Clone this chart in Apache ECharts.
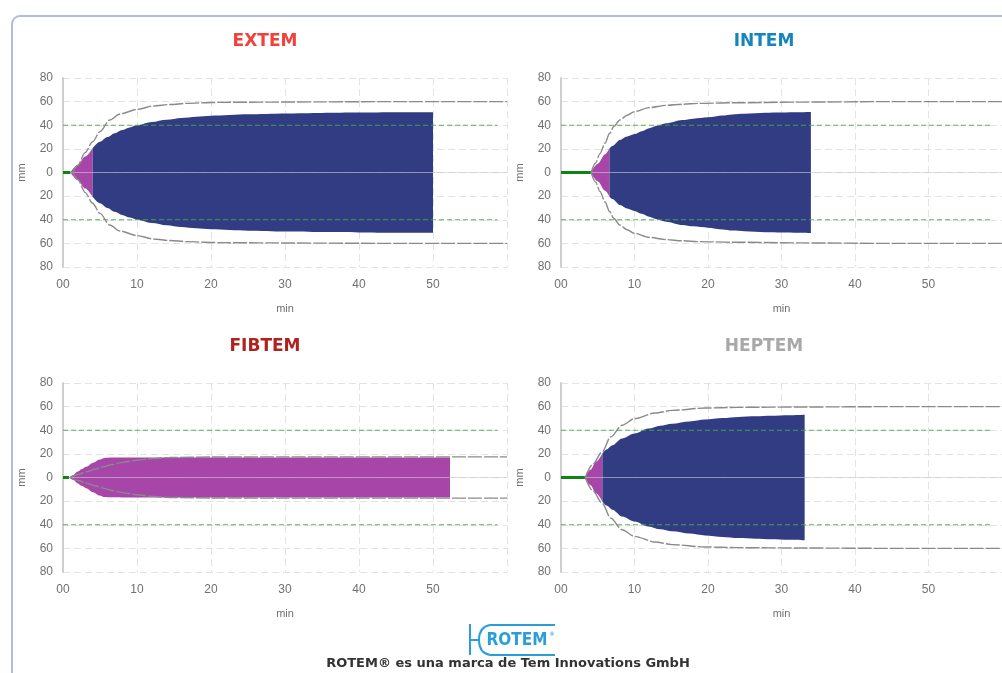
<!DOCTYPE html>
<html>
<head>
<meta charset="utf-8">
<title>ROTEM</title>
<script src="https://cdn.jsdelivr.net/npm/echarts@6/dist/echarts.min.js"></script>
<style>
  html, body { margin: 0; padding: 0; background: #fff; }
  #chart { width: 1002px; height: 673px; }
</style>
</head>
<body>
<div id="chart"></div>
<script>
// ---- Panels ----
const testNames = ['EXTEM', 'INTEM', 'FIBTEM', 'HEPTEM'];
const titleColors = ['#f2403a', '#1485bd', '#b0221e', '#a8a8a8'];

// ---- Axis ticks ----
const timeTicks = [0, 10, 20, 30, 40, 50, 60];
const ampTicks = [-80, -60, -40, -20, 0, 20, 40, 60, 80];
const limitLines = [40, -40];
const limitSpan = [0, 58.7];

// ---- Clotting time (min): flat trace before clot starts ----
const clotTime = [1.0, 4.05, 0.8, 3.25];
// ---- Time (min) at which amplitude reaches 20 mm ----
const time20 = [4.0, 6.6, null, 5.63];

// ---- EXTEM trace ----
const extemTime = [1.0, 2, 3, 4.0, 5, 6, 7, 8, 9, 10, 12, 14, 16, 18, 20, 25, 30, 35, 40, 45, 50];
const extemAmp  = [0, 6.5, 13.5, 20.5, 26, 30, 33.3, 36, 38.2, 40, 42.7, 44.6, 46.2, 47.3, 48.1, 49.3, 50, 50.4, 50.7, 51, 51];
const extemRefTime = [1.3, 2, 3, 4, 5, 6.3, 7.7, 10, 12.2, 14.5, 16.7, 19, 21.2, 25, 28, 35, 45, 60];
const extemRefAmp  = [0, 6, 17, 26, 34.6, 44.4, 49.5, 53.4, 56.3, 57.6, 58.5, 59, 59.4, 59.5, 59.6, 59.8, 60, 60];

// ---- INTEM trace ----
const intemTime = [4.05, 5, 6, 6.6, 7, 8, 9, 10, 11, 12, 13, 14.3, 16.5, 18, 20, 22, 23.3, 25, 27.8, 30, 32.3, 34];
const intemAmp  = [0, 7.5, 15.5, 20.5, 22.5, 27.6, 30.5, 32.6, 35, 37.4, 39.5, 41.6, 44.4, 45.6, 46.7, 48.3, 49.2, 49.8, 50.6, 50.8, 51, 51.2];
const intemRefTime = [4.1, 4.7, 5.3, 6, 6.6, 7.2, 8, 9, 10, 12, 14.3, 16.5, 18.8, 23.3, 32.3, 45, 60];
const intemRefAmp  = [0, 8, 16, 25, 33, 39, 44.4, 48.5, 51.5, 54.9, 56.8, 57.8, 58.5, 59, 59.6, 60, 60];

// ---- FIBTEM trace ----
const fibtemTime = [0.8, 1.35, 2, 2.5, 3.15, 4.05, 4.95, 5.6, 6, 8, 12.2, 20, 30, 40, 52.3];
const fibtemAmp  = [0, 2, 5, 7, 9, 12.4, 15.2, 16.6, 16.8, 16.9, 17, 17, 16.9, 16.9, 16.9];
const fibtemRefTime = [1, 2, 3.15, 4.3, 5.4, 6.5, 7.7, 8.8, 9.9, 12.2, 14.4, 20, 30, 60];
const fibtemRefAmp  = [0, 2.5, 4.8, 7, 9, 10.8, 12.4, 13.6, 14.6, 16, 16.9, 17.3, 17.5, 17.5];

// ---- HEPTEM trace ----
const heptemTime = [3.25, 4, 4.8, 5.63, 6.2, 7, 8.3, 10, 11.9, 13.5, 15.1, 17.5, 19.6, 22, 24.1, 26.5, 28.6, 31, 33.15];
const heptemAmp  = [0, 6.5, 13.5, 20.3, 23.8, 27.3, 33, 37.2, 41.4, 43.8, 45.6, 47.5, 49, 50.3, 51.2, 51.8, 52.3, 52.8, 53.2];
const heptemRefTime = [3.3, 4.3, 5.6, 6.75, 8.3, 10, 12.8, 15.1, 19.6, 24.1, 33.1, 45, 60];
const heptemRefAmp  = [0, 11, 21.7, 34.3, 44.2, 49.8, 54.6, 56.8, 58.8, 59.4, 59.7, 60, 60];

const traceTime = [extemTime, intemTime, fibtemTime, heptemTime];
const traceAmp = [extemAmp, intemAmp, fibtemAmp, heptemAmp];
const refTime = [extemRefTime, intemRefTime, fibtemRefTime, heptemRefTime];
const refAmp = [extemRefAmp, intemRefAmp, fibtemRefAmp, heptemRefAmp];

// ---- Styling ----
const FILL_BLUE = '#313c83';
const FILL_MAGENTA = '#a845a9';
const CT_GREEN = '#0f840f';
const REF_GRAY = '#8a8a8a';
const LABEL_GRAY = '#707070';
const GRID_GRAY = '#e3e3e3';

const gridBoxes = [
  { left: 63, top: 78, width: 444, height: 189 },
  { left: 561, top: 78, width: 444, height: 189 },
  { left: 63, top: 383, width: 444, height: 189 },
  { left: 561, top: 383, width: 444, height: 189 }
];
const titleCenters = [[260, 28], [759, 28], [260, 333], [759, 333]];

function pairs(ts, as, sign, from, to) {
  const out = [];
  for (let i = 0; i < ts.length; i++) {
    if (from != null && ts[i] < from - 1e-9) continue;
    if (to != null && ts[i] > to + 1e-9) continue;
    out.push([ts[i], sign * as[i]]);
  }
  return out;
}

function areaSeries(idx, data, color) {
  return {
    type: 'line', xAxisIndex: idx, yAxisIndex: idx, data: data,
    symbol: 'none', smooth: 0.3, smoothMonotone: 'x',
    lineStyle: { width: 0, color: color },
    areaStyle: { color: color, opacity: 1 },
    z: 2, silent: true
  };
}

function flatLine(idx, x0, x1, y, lineStyle, z) {
  return {
    type: 'line', xAxisIndex: idx, yAxisIndex: idx, data: [[x0, y], [x1, y]],
    symbol: 'none', lineStyle: lineStyle, z: z, silent: true
  };
}

const grids = [], xAxes = [], yAxes = [], series = [], titles = [];

testNames.forEach((name, i) => {
  grids.push(Object.assign({ containLabel: false }, gridBoxes[i]));
  titles.push({
    text: name, left: titleCenters[i][0], top: titleCenters[i][1], textAlign: 'center',
    textStyle: { color: titleColors[i], fontSize: 17, fontWeight: 'bold', fontFamily: 'DejaVu Sans' }
  });
  xAxes.push({
    type: 'value', gridIndex: i, min: timeTicks[0], max: timeTicks[timeTicks.length - 1], interval: 10,
    name: 'min', nameLocation: 'middle', nameGap: 36,
    nameTextStyle: { color: LABEL_GRAY, fontSize: 11, fontFamily: 'Liberation Sans' },
    axisLine: { show: false }, axisTick: { show: false },
    axisLabel: {
      color: LABEL_GRAY, fontSize: 12, margin: 12, fontFamily: 'Liberation Sans', showMaxLabel: false,
      formatter: v => (v === 0 ? '00' : String(v))
    },
    splitLine: { show: true, lineStyle: { color: GRID_GRAY, type: [7, 4], width: 1 } }
  });
  yAxes.push({
    type: 'value', gridIndex: i, min: ampTicks[0], max: ampTicks[ampTicks.length - 1], interval: 20,
    name: 'mm', nameLocation: 'middle', nameGap: 36, nameRotate: 90,
    nameTextStyle: { color: LABEL_GRAY, fontSize: 11, fontFamily: 'Liberation Sans' },
    axisLine: { show: true, onZero: false, lineStyle: { color: '#cfcfcf', width: 2 } },
    axisTick: { show: false },
    axisLabel: { color: LABEL_GRAY, fontSize: 12, margin: 10, fontFamily: 'Liberation Sans',
      formatter: v => String(Math.abs(v)) },
    splitLine: { show: true, lineStyle: { color: GRID_GRAY, type: [7, 4], width: 1 } }
  });

  const ts = traceTime[i], as = traceAmp[i], t20 = time20[i];
  // early (magenta) phase up to 20 mm, then the blue phase
  series.push(areaSeries(i, pairs(ts, as, 1, null, t20), FILL_MAGENTA));
  series.push(areaSeries(i, pairs(ts, as, -1, null, t20), FILL_MAGENTA));
  if (t20 != null) {
    series.push(areaSeries(i, pairs(ts, as, 1, t20, null), FILL_BLUE));
    series.push(areaSeries(i, pairs(ts, as, -1, t20, null), FILL_BLUE));
  }

  // zero line across the panel
  series.push(flatLine(i, timeTicks[0], timeTicks[timeTicks.length - 1], 0,
    { color: 'rgba(195,195,195,0.5)', type: 'solid', width: 1 }, 3));
  // ±40 mm limit lines
  limitLines.forEach(v => {
    series.push(flatLine(i, limitSpan[0], limitSpan[1], v,
      { color: 'rgba(70,172,70,0.9)', type: [5, 3], width: 1 }, 4));
  });

  // reference envelope
  [1, -1].forEach(sign => {
    series.push({
      type: 'line', xAxisIndex: i, yAxisIndex: i, data: pairs(refTime[i], refAmp[i], sign),
      symbol: 'none', smooth: 0.3, smoothMonotone: 'x',
      lineStyle: { color: REF_GRAY, width: 1.4, type: [14, 2] }, z: 5, silent: true
    });
  });

  // flat trace before clotting starts
  series.push(flatLine(i, 0, clotTime[i], 0, { color: CT_GREEN, width: 3 }, 8));
});

const LOGO_BLUE = '#2a9ed8';
const logoStroke = { stroke: LOGO_BLUE, lineWidth: 2, fill: 'none' };

const chart = echarts.init(document.getElementById('chart'), null, { renderer: 'canvas' });
chart.setOption({
  animation: false,
  backgroundColor: '#ffffff',
  title: titles,
  grid: grids,
  xAxis: xAxes,
  yAxis: yAxes,
  series: series,
  graphic: [
    {
      type: 'rect', z: 0, silent: true,
      shape: { x: 12, y: 16, width: 1200, height: 900, r: 8 },
      style: { fill: 'none', stroke: '#aebce6', lineWidth: 2 }
    },
    {
      type: 'group', silent: true, z: 10,
      children: [
        { type: 'line', shape: { x1: 470, y1: 624, x2: 470, y2: 655 }, style: logoStroke },
        { type: 'line', shape: { x1: 470, y1: 640, x2: 479, y2: 640 }, style: logoStroke },
        { type: 'line', shape: { x1: 490, y1: 625, x2: 555, y2: 625 }, style: logoStroke },
        { type: 'line', shape: { x1: 490, y1: 655, x2: 555, y2: 655 }, style: logoStroke },
        { type: 'bezierCurve', shape: { x1: 490, y1: 625, cpx1: 479, cpy1: 627, x2: 479, y2: 640 }, style: logoStroke },
        { type: 'bezierCurve', shape: { x1: 479, y1: 640, cpx1: 479, cpy1: 653, x2: 490, y2: 655 }, style: logoStroke },
        { type: 'text', x: 517, y: 641,
          style: { text: 'ROTEM', fill: LOGO_BLUE, font: 'bold 17px "DejaVu Sans Condensed"', align: 'center', verticalAlign: 'middle' } },
        { type: 'text', x: 552, y: 634,
          style: { text: '®', fill: LOGO_BLUE, font: '6px "DejaVu Sans"', align: 'center', verticalAlign: 'middle' } }
      ]
    },
    {
      type: 'text', x: 508, y: 664, silent: true, z: 10,
      style: { text: 'ROTEM® es una marca de Tem Innovations GmbH', fill: '#333333',
        font: 'bold 13px "DejaVu Sans"', align: 'center', verticalAlign: 'middle' }
    }
  ]
});
</script>
</body>
</html>
